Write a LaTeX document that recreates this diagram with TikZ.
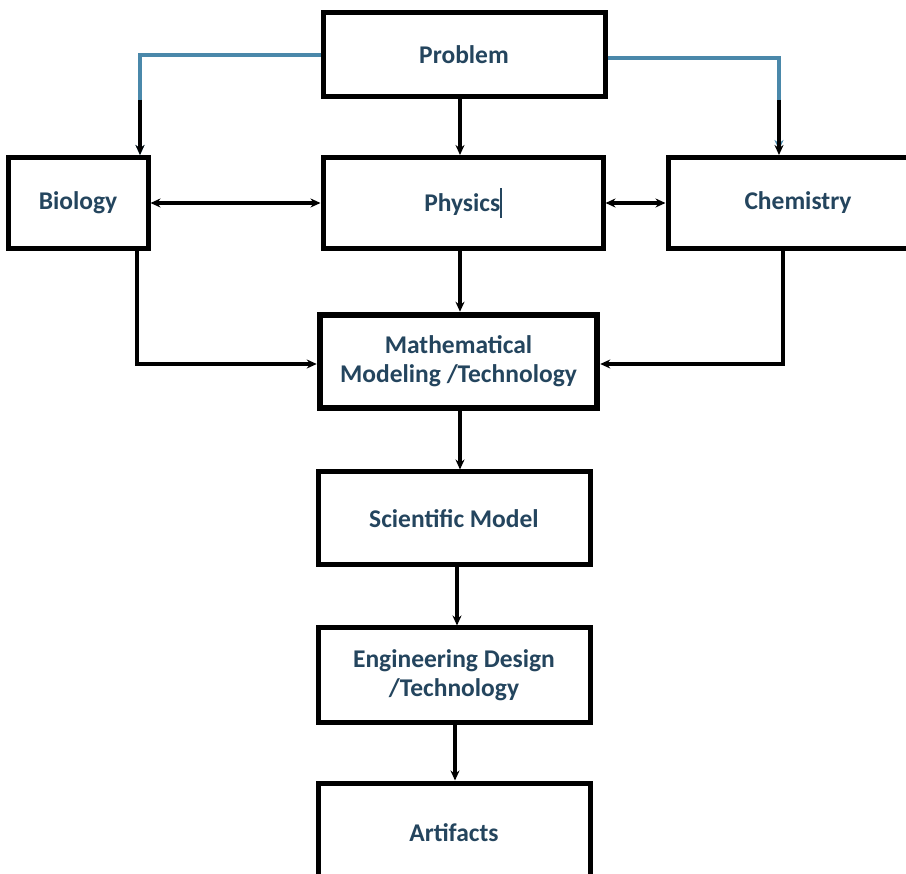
\documentclass[tikz,border=0pt]{standalone}
\usepackage{fontspec}
\setmainfont{Carlito}
\usetikzlibrary{arrows.meta}
\definecolor{txt}{HTML}{24455E}
\definecolor{blueline}{HTML}{4A88AA}
\begin{document}
\begin{tikzpicture}[x=1pt,y=-1pt,
  box/.style={draw=black,line width=5pt,fill=white,inner sep=0pt,font=\bfseries\fontsize{25.5}{29}\selectfont,text=txt,align=center},
  conn/.style={line width=3.5pt,draw=black,-{Stealth[length=10pt,width=9pt]}},
  bconn/.style={line width=3.5pt,draw=black,{Stealth[length=10pt,width=9pt]}-{Stealth[length=10pt,width=9pt]}}]
\useasboundingbox (0,0) rectangle (906,874);
\fill[white] (0,0) rectangle (906,874);
\clip (0,0) rectangle (906,874);
% nodes
\node[box,minimum width=282pt,minimum height=84pt] (prob) at (464,55) {Problem};
\node[box,minimum width=140pt,minimum height=91pt] (bio) at (78,203) {Biology};
\node[box,minimum width=280pt,minimum height=91pt] (phys) at (463,203) {Physics\textcolor{txt}{\rule[-6pt]{1.5pt}{30pt}}};
\node[box,minimum width=260pt,minimum height=91pt] (chem) at (798,203) {Chemistry};
\node[box,line width=6.5pt,minimum width=277pt,minimum height=93pt] (math) at (458.5,361.5) {Mathematical\\Modeling /Technology};
\node[box,minimum width=272pt,minimum height=93pt] (sci) at (454,518.5) {Scientific Model};
\node[box,minimum width=272pt,minimum height=94pt] (eng) at (454,675) {Engineering Design\\/Technology};
\node[box,minimum width=272pt,minimum height=100pt] (art) at (454,833) {Artifacts};
% connectors
\draw[conn,draw=blueline] (prob.west |- 0,55) -| (bio.north -| 140,0);
\draw[conn] (140,100) -- (bio.north -| 140,0);
\draw[conn,draw=blueline] (prob.east |- 0,58) -| (779,150);
\draw[conn] (779,100) -- (chem.north -| 779,0);
\draw[conn] (prob.south -| 460,0) -- (phys.north -| 460,0);
\draw[bconn] (bio.east) -- (phys.west);
\draw[bconn] (phys.east) -- (chem.west);
\draw[conn] (phys.south -| 460,0) -- (math.north -| 460,0);
\draw[conn] (bio.south -| 137,0) |- (math.west |- 0,364);
\draw[conn] (chem.south -| 783,0) |- (math.east |- 0,364);
\draw[conn] (math.south -| 460,0) -- (sci.north -| 460,0);
\draw[conn] (sci.south -| 457,0) -- (eng.north -| 457,0);
\draw[conn] (eng.south -| 455,0) -- (art.north -| 455,0);
\end{tikzpicture}
\end{document}
